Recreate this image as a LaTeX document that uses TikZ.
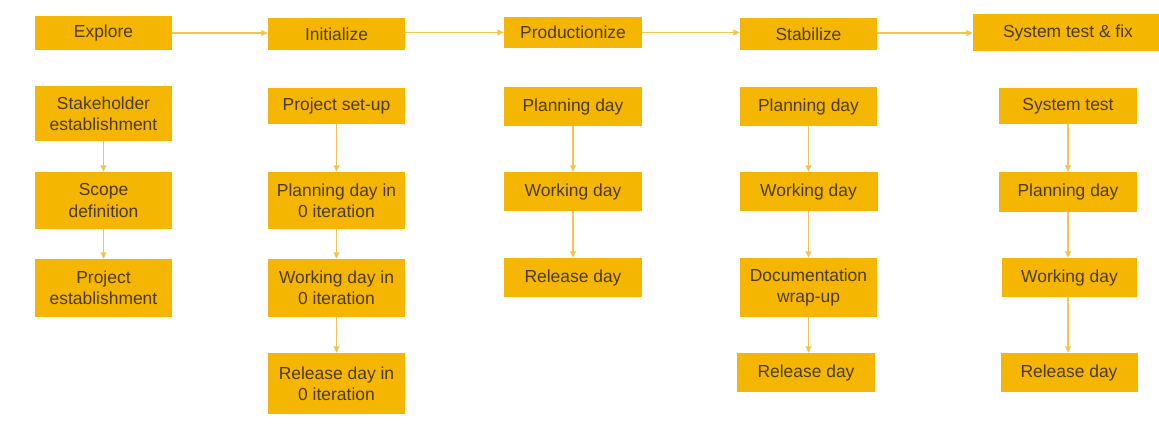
\documentclass[tikz,border=0pt]{standalone}
\usepackage{fontspec}
\setmainfont{Liberation Sans}
\usetikzlibrary{arrows.meta}

\definecolor{boxfill}{HTML}{F4B600}
\definecolor{boxtext}{HTML}{4E3B08}
\definecolor{linkcol}{HTML}{F0C650}

\tikzset{
  stepbox/.style={fill=boxfill, draw=none, inner sep=0pt, align=center,
    text=boxtext, font=\fontsize{17.5}{21.5}\selectfont},
  link/.style={draw=linkcol, line width=1.1bp,
    -{Triangle[length=6.5bp,width=6bp]}}
}

\begin{document}
\begin{tikzpicture}[x=1bp, y=-1bp]
\useasboundingbox (0,0) rectangle (1159,423);

% phase headers
\node[stepbox, minimum width=137bp, minimum height=34bp] (explore) at (103.5,33)   {Explore};
\node[stepbox, minimum width=137bp, minimum height=32bp] (init)    at (336.5,34)   {Initialize};
\node[stepbox, minimum width=138bp, minimum height=31bp] (prod)    at (573,32.5)   {Productionize};
\node[stepbox, minimum width=137bp, minimum height=32bp] (stab)    at (808.5,34)   {Stabilize};
\node[stepbox, minimum width=190bp, minimum height=37bp] (sysfix)  at (1068,32.5)  {System test \& fix};

% Explore
\node[stepbox, minimum width=137bp, minimum height=55bp] (stake)   at (103.5,113.5) {Stakeholder\\establishment};
\node[stepbox, minimum width=137bp, minimum height=57bp] (scope)   at (103.5,200.5) {Scope\\definition};
\node[stepbox, minimum width=137bp, minimum height=58bp] (projest) at (103.5,288)   {Project\\establishment};

% Initialize
\node[stepbox, minimum width=137bp, minimum height=36bp] (setup) at (336.5,106)   {Project set-up};
\node[stepbox, minimum width=137bp, minimum height=57bp] (planz) at (336.5,200.5) {Planning day in\\0 iteration};
\node[stepbox, minimum width=137bp, minimum height=58bp] (workz) at (336.5,288)   {Working day in\\0 iteration};
\node[stepbox, minimum width=137bp, minimum height=61bp] (relz)  at (336.5,383.5) {Release day in\\0 iteration};

% Productionize
\node[stepbox, minimum width=138bp, minimum height=39bp] (planp) at (573,106.5) {Planning day};
\node[stepbox, minimum width=138bp, minimum height=39bp] (workp) at (573,191.5) {Working day};
\node[stepbox, minimum width=138bp, minimum height=39bp] (relp)  at (573,277.5) {Release day};

% Stabilize
\node[stepbox, minimum width=137bp, minimum height=39bp] (plans) at (808.5,106.5) {Planning day};
\node[stepbox, minimum width=138bp, minimum height=39bp] (works) at (808.5,191.5) {Working day};
\node[stepbox, minimum width=137bp, minimum height=59bp] (docs)  at (808.5,287.5) {Documentation\\wrap-up};
\node[stepbox, minimum width=138bp, minimum height=39bp] (rels)  at (806,372.5)   {Release day};

% System test & fix
\node[stepbox, minimum width=138bp, minimum height=36bp] (systest) at (1068,106)   {System test};
\node[stepbox, minimum width=138bp, minimum height=40bp] (plant)   at (1068,192)   {Planning day};
\node[stepbox, minimum width=135bp, minimum height=39bp] (workt)   at (1069.5,277.5) {Working day};
\node[stepbox, minimum width=137bp, minimum height=39bp] (relt)    at (1069,372.5) {Release day};

% phase sequence, kept level
\draw[link] (explore.east) -- (explore.east -| init.west);
\draw[link] (init.east) ++(0,-1.5) coordinate (ia) -- (ia -| prod.west);
\draw[link] (prod.east) -- (prod.east -| stab.west);
\draw[link] (stab.east) ++(0,-1) coordinate (sa) -- (sa -| sysfix.west);

% activities within each phase
\draw[link] (stake) -- (scope);
\draw[link] (scope) -- (projest);

\draw[link] (setup) -- (planz);
\draw[link] (planz) -- (workz);
\draw[link] (workz) -- (relz);

\draw[link] (planp) -- (workp);
\draw[link] (workp) -- (relp);

\draw[link] (plans) -- (works);
\draw[link] (works) -- (docs);
\draw[link] (docs.south) -- (docs.south |- rels.north);

\draw[link] (systest) -- (plant);
\draw[link] (plant.south) -- (plant.south |- workt.north);
\draw[link] (plant.south |- workt.south) -- (plant.south |- relt.north);
\end{tikzpicture}
\end{document}
